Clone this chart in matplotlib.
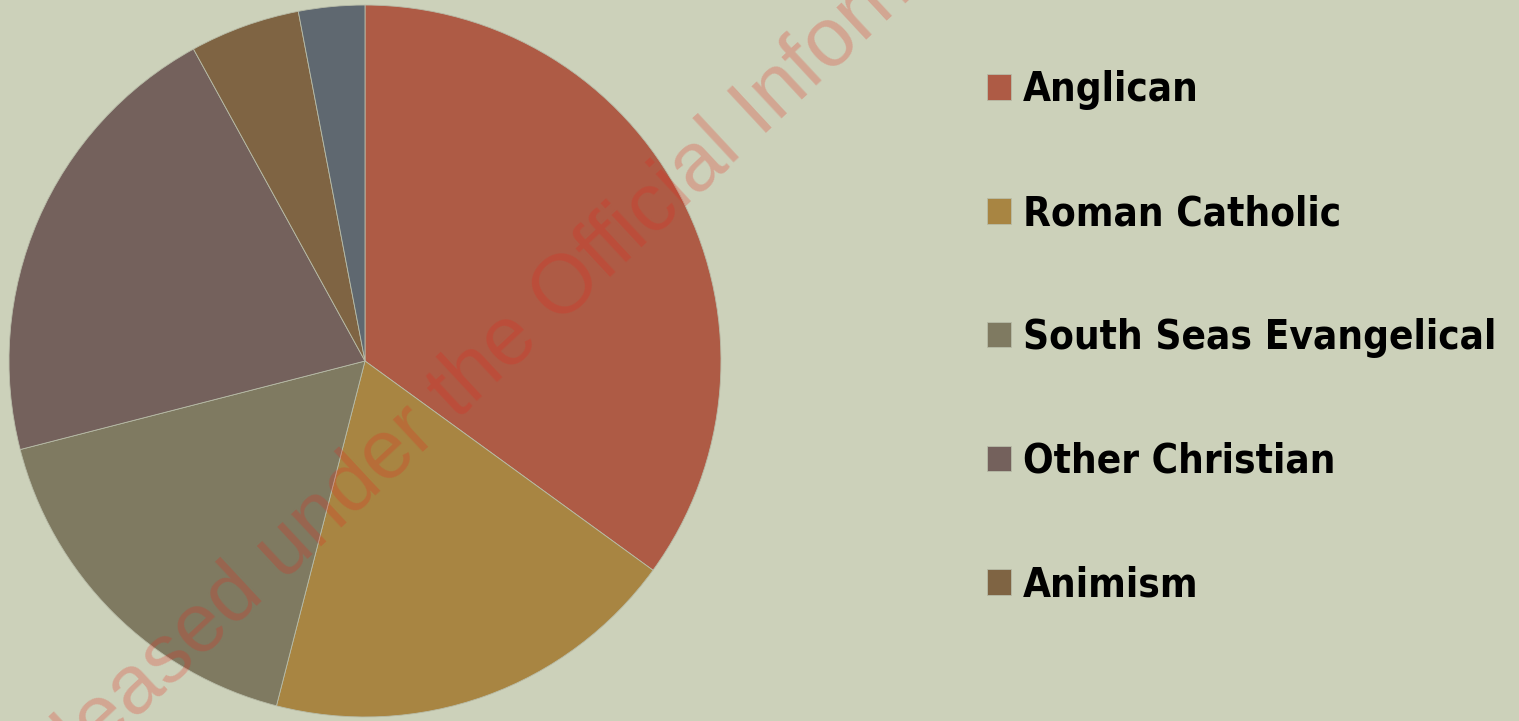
import matplotlib
matplotlib.use("Agg")
import matplotlib.pyplot as plt
from matplotlib.font_manager import FontProperties

# religious affiliation shares (%), clockwise from 12 o'clock
religions = ["Anglican", "Roman Catholic", "South Seas Evangelical",
             "Other Christian", "Animism", "Other"]
shares = [35, 19, 17, 21, 5, 3]
colors = ["#AE5B45", "#A88542", "#7F7A61", "#74615C", "#7F6443", "#5F6870"]
legend_count = 5  # last slice is not shown in the legend

bg = "#CCD1BA"

fig = plt.figure(figsize=(15.19, 7.21), dpi=100)
fig.patch.set_facecolor(bg)

ax = fig.add_axes([0.00593, 0.00555, 0.4687, 0.9875])
ax.set_facecolor(bg)
wedges, _ = ax.pie(shares, colors=colors, startangle=90, counterclock=False,
                   radius=1.0, wedgeprops=dict(edgecolor="#B8BCA8", linewidth=0.6))
ax.set_xlim(-1, 1)
ax.set_ylim(-1, 1)
ax.set_aspect("equal")
ax.axis("off")

legend_font = FontProperties(family="DejaVu Sans", weight="bold",
                             stretch="condensed", size=29)
leg = fig.legend(wedges[:legend_count], religions[:legend_count],
                 loc="center left", bbox_to_anchor=(0.6498, 0.5315),
                 frameon=False, borderpad=0, borderaxespad=0,
                 handlelength=0.6, handleheight=0.6, handletextpad=0.3,
                 labelspacing=2.08, prop=legend_font)

# watermark
fig.text(0.3772, 0.609, "Released under the Official Information Act",
         family=["Liberation Sans", "DejaVu Sans"], fontsize=60,
         color=(0.9, 0.15, 0.1), alpha=0.25, rotation=42.9,
         rotation_mode="anchor", ha="center", va="center")

fig.savefig("out.png", dpi=100, facecolor=bg)
